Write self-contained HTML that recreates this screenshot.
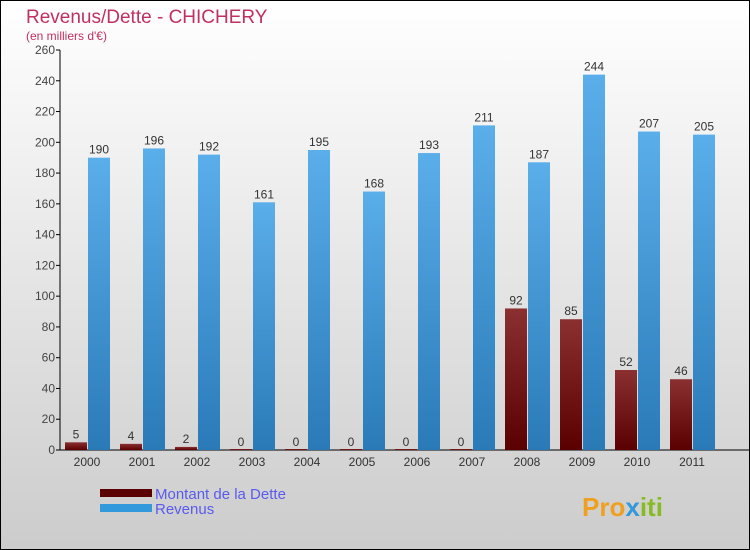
<!DOCTYPE html>
<html><head><meta charset="utf-8"><style>
body{margin:0}
#c{width:750px;height:550px;position:relative;overflow:hidden;font-family:"Liberation Sans",sans-serif}
</style></head><body>
<div id="c">
<svg id="s" width="750" height="550" xmlns="http://www.w3.org/2000/svg">
<defs>
<linearGradient id="bg" x1="0" y1="0" x2="0" y2="1"><stop offset="0" stop-color="#ffffff"/><stop offset="1" stop-color="#cccccc"/></linearGradient>
<linearGradient id="gd" x1="0" y1="0" x2="0" y2="1"><stop offset="0" stop-color="#8b3030"/><stop offset="1" stop-color="#5a0000"/></linearGradient>
<linearGradient id="gr" x1="0" y1="0" x2="0" y2="1"><stop offset="0" stop-color="#5aaeea"/><stop offset="1" stop-color="#2a7ab8"/></linearGradient>
</defs>
<rect x="0.5" y="0.5" width="749" height="549" fill="url(#bg)" stroke="#000"/>
<text x="26" y="23" font-size="19" fill="#c03060">Revenus/Dette - CHICHERY</text>
<text x="26" y="40" font-size="12" fill="#c03060">(en milliers d'€)</text>
<g id="plot"></g>
<rect x="100" y="489" width="52" height="8" fill="#5a0000"/>
<text x="155" y="499" font-size="15" fill="#5a5aee">Montant de la Dette</text>
<rect x="100" y="504" width="52" height="8" fill="#3399dd"/>
<text x="155" y="514" font-size="15" fill="#5a5aee">Revenus</text>
<text x="582" y="516" font-size="26" font-weight="bold" fill="#f0a020">Pro<tspan fill="#3399dd">x</tspan><tspan fill="#88bb22">iti</tspan></text>
</svg>
</div>
<script>
const years=["2000","2001","2002","2003","2004","2005","2006","2007","2008","2009","2010","2011"];
const dette=[5,4,2,0,0,0,0,0,92,85,52,46];
const revenus=[190,196,192,161,195,168,193,211,187,244,207,205];
const ticks=[0,20,40,60,80,100,120,140,160,180,200,220,240,260];
const NS="http://www.w3.org/2000/svg";
const g=document.getElementById('plot');
const y=v=>450-v*400/260;
const xc=i=>87+i*55;
function mk(t,a){const e=document.createElementNS(NS,t);for(const k in a)e.setAttribute(k,a[k]);g.appendChild(e);return e;}
let ax=mk('line',{x1:60,y1:50,x2:60,y2:450,stroke:'#000'});


let bx=mk('line',{x1:60,y1:450,x2:750,y2:450,stroke:'#000'});


ticks.forEach(t=>{
  let l=mk('line',{x1:56,y1:y(t),x2:60,y2:y(t),stroke:'#000'});
  
  
  let tx=mk('text',{x:55,y:y(t)+4,'font-size':12,fill:'#444','text-anchor':'end'});tx.textContent=t;
  
  
});
years.forEach((yr,i)=>{
  const c=xc(i);
  let d=mk('rect',{x:c-22,y:y(dette[i])-(dette[i]?0:1),width:22,height:Math.max(1,450-y(dette[i])),fill:'url(#gd)'});
  
  
  let r=mk('rect',{x:c+1,y:y(revenus[i]),width:22,height:450-y(revenus[i]),fill:'url(#gr)'});
  
  
  let dl=mk('text',{x:c-11,y:y(dette[i])-4,'font-size':12,fill:'#333','text-anchor':'middle'});dl.textContent=dette[i];
  
  
  let rl=mk('text',{x:c+12,y:y(revenus[i])-4,'font-size':12,fill:'#333','text-anchor':'middle'});rl.textContent=revenus[i];
  
  
  let xl=mk('text',{x:c,y:466,'font-size':12,fill:'#333','text-anchor':'middle'});xl.textContent=yr;
  
  
});
</script>
</body></html>
